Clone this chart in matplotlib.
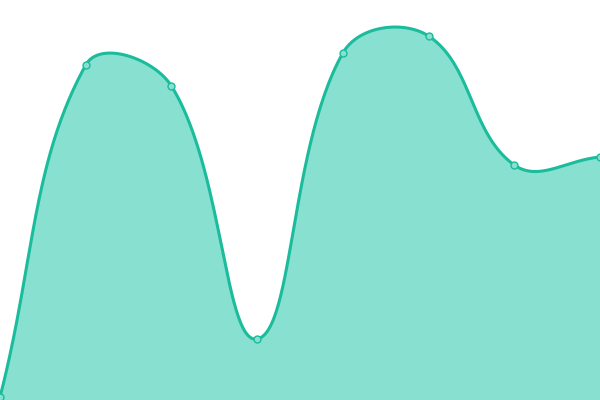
import numpy as np
import matplotlib
matplotlib.use('Agg')
import matplotlib.pyplot as plt

# values (0..400 scale, bottom = 0)
labels = ['a', 'b', 'c', 'd', 'e', 'f', 'g', 'h']
values = [3, 335, 314, 61, 347, 364, 235, 243]

lineColor = '#1abc9c'
fillColor = '#88e0d0'

W, H = 600, 400
xs = np.arange(len(values)) * W / (len(values) - 1)
ys = np.array(values, dtype=float)

#spline control points, Chart.js style (tension 0.4)
tension = 0.4
n = len(xs)
cpPrev = []
cpNext = []
for i in range(n):
    p = np.array([xs[i], ys[i]])
    a = np.array([xs[i - 1], ys[i - 1]]) if i > 0 else p
    b = np.array([xs[i + 1], ys[i + 1]]) if i < n - 1 else p
    d01 = np.hypot(*(p - a))
    d12 = np.hypot(*(b - p))
    tot = d01 + d12
    s01 = d01 / tot if tot else 0
    s12 = d12 / tot if tot else 0
    cpPrev.append(p - tension * s01 * (b - a))
    cpNext.append(p + tension * s12 * (b - a))

curveX = []
curveY = []
t = np.linspace(0, 1, 60)
for i in range(n - 1):
    p0 = np.array([xs[i], ys[i]])
    p3 = np.array([xs[i + 1], ys[i + 1]])
    p1 = np.clip(cpNext[i], [0, 0], [W, H])
    p2 = np.clip(cpPrev[i + 1], [0, 0], [W, H])
    seg = ((1 - t) ** 3)[:, None] * p0 + (3 * (1 - t) ** 2 * t)[:, None] * p1 \
        + (3 * (1 - t) * t ** 2)[:, None] * p2 + (t ** 3)[:, None] * p3
    curveX.extend(seg[:, 0])
    curveY.extend(seg[:, 1])

fig = plt.figure(figsize=(6, 4), dpi=100)
ax = fig.add_axes([0, 0, 1, 1])
ax.fill_between(curveX, curveY, 0, color=fillColor, lw=0)
ax.plot(curveX, curveY, color=lineColor, lw=2.2, solid_capstyle='round')
ax.plot(xs, ys, 'o', ms=5, mfc=fillColor, mec=lineColor, mew=1, clip_on=False)
ax.set_xlim(0, W)
ax.set_ylim(0, H)
ax.axis('off')

fig.savefig('out.png', dpi=100)
